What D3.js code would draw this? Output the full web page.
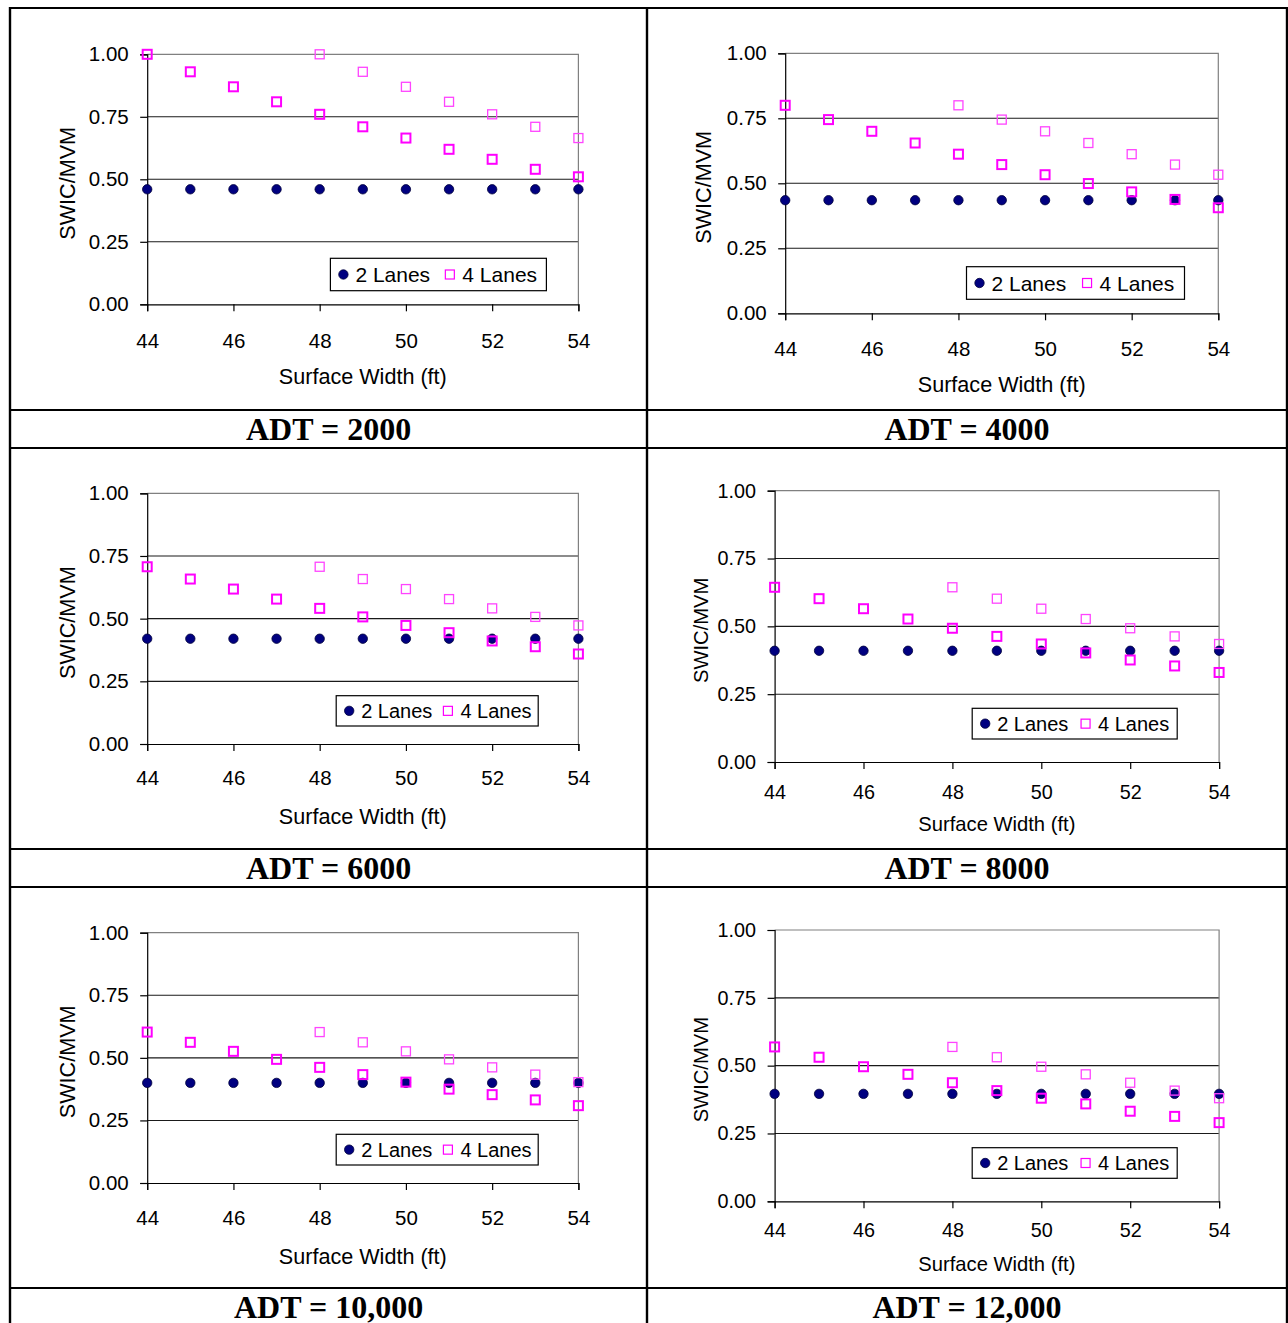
<!DOCTYPE html>
<html>
<head>
<meta charset="utf-8">
<script src="https://cdn.jsdelivr.net/npm/d3@7"></script>
<style>
  html, body { margin: 0; padding: 0; background: #ffffff; }
  svg { display: block; }
  text { font-family: "Liberation Sans", Arial, sans-serif; fill: #000; }
  .caption { font-family: "Liberation Serif", "Times New Roman", serif; font-weight: bold; }
</style>
</head>
<body>
<svg id="chart" width="1288" height="1323"></svg>
<script>
// ---------------- DATA ----------------
const surfaceWidths = [44, 45, 46, 47, 48, 49, 50, 51, 52, 53, 54];
const shiftedWidths = [48, 49, 50, 51, 52, 53, 54];
const xTickValues = [44, 46, 48, 50, 52, 54];
const yTickValues = [0, 0.25, 0.5, 0.75, 1.0];
const seriesNames = ["2 Lanes", "4 Lanes"];
const panelTitles = ["ADT = 2000", "ADT = 4000", "ADT = 6000", "ADT = 8000", "ADT = 10,000", "ADT = 12,000"];
const xAxisTitle = "Surface Width (ft)";
const yAxisTitle = "SWIC/MVM";

// ADT = 2000
const twoLanes2000   = [0.46, 0.46, 0.46, 0.46, 0.46, 0.46, 0.46, 0.46, 0.46, 0.46, 0.46];
const fourLanesA2000 = [1.00, 0.93, 0.87, 0.81, 0.76, 0.71, 0.665, 0.62, 0.58, 0.54, 0.51];
const fourLanesB2000 = [1.00, 0.93, 0.87, 0.81, 0.76, 0.71, 0.665];
// ADT = 4000
const twoLanes4000   = [0.435, 0.435, 0.435, 0.435, 0.435, 0.435, 0.435, 0.435, 0.435, 0.435, 0.435];
const fourLanesA4000 = [0.80, 0.745, 0.70, 0.655, 0.612, 0.572, 0.533, 0.499, 0.467, 0.438, 0.406];
const fourLanesB4000 = [0.80, 0.745, 0.70, 0.655, 0.612, 0.572, 0.533];
// ADT = 6000
const twoLanes6000   = [0.42, 0.42, 0.42, 0.42, 0.42, 0.42, 0.42, 0.42, 0.42, 0.42, 0.42];
const fourLanesA6000 = [0.707, 0.658, 0.618, 0.578, 0.541, 0.507, 0.473, 0.444, 0.411, 0.388, 0.359];
const fourLanesB6000 = [0.707, 0.658, 0.618, 0.578, 0.541, 0.507, 0.473];
// ADT = 8000
const twoLanes8000   = [0.41, 0.41, 0.41, 0.41, 0.41, 0.41, 0.41, 0.41, 0.41, 0.41, 0.41];
const fourLanesA8000 = [0.644, 0.602, 0.565, 0.527, 0.493, 0.463, 0.435, 0.402, 0.376, 0.354, 0.330];
const fourLanesB8000 = [0.644, 0.602, 0.565, 0.527, 0.493, 0.463, 0.435];
// ADT = 10,000
const twoLanes10000   = [0.40, 0.40, 0.40, 0.40, 0.40, 0.40, 0.40, 0.40, 0.40, 0.40, 0.40];
const fourLanesA10000 = [0.603, 0.562, 0.526, 0.494, 0.462, 0.433, 0.403, 0.375, 0.353, 0.332, 0.309];
const fourLanesB10000 = [0.603, 0.562, 0.526, 0.494, 0.462, 0.433, 0.403];
// ADT = 12,000
const twoLanes12000   = [0.396, 0.396, 0.396, 0.396, 0.396, 0.396, 0.396, 0.396, 0.396, 0.396, 0.396];
const fourLanesA12000 = [0.569, 0.531, 0.496, 0.468, 0.437, 0.408, 0.380, 0.359, 0.332, 0.313, 0.290];
const fourLanesB12000 = [0.569, 0.531, 0.496, 0.468, 0.437, 0.408, 0.380];

const panelData = [
  { two: twoLanes2000,  a: fourLanesA2000,  b: fourLanesB2000 },
  { two: twoLanes4000,  a: fourLanesA4000,  b: fourLanesB4000 },
  { two: twoLanes6000,  a: fourLanesA6000,  b: fourLanesB6000 },
  { two: twoLanes8000,  a: fourLanesA8000,  b: fourLanesB8000 },
  { two: twoLanes10000, a: fourLanesA10000, b: fourLanesB10000 },
  { two: twoLanes12000, a: fourLanesA12000, b: fourLanesB12000 }
];

// ---------------- LAYOUT ----------------
const layouts = [
  { x0: 147.2, x1: 578.4,  yTop: 54.3,  yBot: 304.3,  tickFs: 20.5, titleFs: 21.6, legFs: 21, xPad: 22,   titleBase: 383.8,  yLabX: 67,  leg: [330.4, 258.3, 216, 32.4], capX: 328.6, capY: 440.3 },
  { x0: 785.2, x1: 1218.3, yTop: 53.3,  yBot: 313.3,  tickFs: 20.5, titleFs: 21.6, legFs: 21, xPad: 21.5, titleBase: 392.2,  yLabX: 703, leg: [966.5, 266.7, 218, 32.6], capX: 967,   capY: 440.3 },
  { x0: 147.2, x1: 578.4,  yTop: 493.3, yBot: 744,    tickFs: 20.5, titleFs: 21.6, legFs: 20, xPad: 19,   titleBase: 823.8,  yLabX: 67,  leg: [336.2, 695.7, 202, 30.3], capX: 328.6, capY: 878.5 },
  { x0: 774.6, x1: 1219.1, yTop: 490.7, yBot: 762,    tickFs: 19.8, titleFs: 20.2, legFs: 20, xPad: 16,   titleBase: 831.2,  yLabX: 701, leg: [972.2, 708.3, 205, 30.7], capX: 967,   capY: 878.5 },
  { x0: 147.2, x1: 578.4,  yTop: 932.7, yBot: 1183,   tickFs: 20.5, titleFs: 21.6, legFs: 20, xPad: 20,   titleBase: 1263.8, yLabX: 67,  leg: [336.2, 1134.3, 202, 30.7], capX: 328.6, capY: 1318 },
  { x0: 774.6, x1: 1219.1, yTop: 930,   yBot: 1201.3, tickFs: 19.8, titleFs: 20.2, legFs: 20, xPad: 15,   titleBase: 1271.2, yLabX: 701, leg: [972.2, 1147.7, 205, 30.6], capX: 967,   capY: 1318 }
];

const navy = "#000080";
const magenta = "#FF00FF";
const svg = d3.select("#chart");
svg.append("rect").attr("width", 1288).attr("height", 1323).attr("fill", "#fff");

// ---------------- PANELS ----------------
panelData.forEach((pd, i) => {
  const L = layouts[i];
  const x = d3.scaleLinear().domain([44, 54]).range([L.x0, L.x1]);
  const y = d3.scaleLinear().domain([0, 1]).range([L.yBot, L.yTop]);
  const g = svg.append("g");

  // gridlines
  g.selectAll("line.grid").data(yTickValues.filter(v => v > 0 && v < 1)).enter()
    .append("line")
    .attr("x1", L.x0).attr("x2", L.x1)
    .attr("y1", d => y(d)).attr("y2", d => y(d))
    .attr("stroke", "#1a1a1a").attr("stroke-width", 1.1);

  // plot area border (top/right gray)
  g.append("path")
    .attr("d", `M${L.x0},${y(1)}H${L.x1}V${y(0)}`)
    .attr("fill", "none").attr("stroke", "#808080").attr("stroke-width", 1.2);

  // y axis
  const yAxis = d3.axisLeft(y).tickValues(yTickValues).tickFormat(d3.format(".2f"))
    .tickSize(7).tickPadding(11.5);
  const ga = g.append("g").attr("transform", `translate(${L.x0},0)`).call(yAxis);
  ga.select(".domain").attr("stroke", "#000").attr("stroke-width", 1.2);
  ga.selectAll(".tick line").attr("stroke", "#000").attr("stroke-width", 1.2);
  ga.selectAll(".tick text").attr("font-size", L.tickFs).attr("font-family", "Liberation Sans, Arial, sans-serif").attr("fill", "#000");

  // x axis
  const xAxis = d3.axisBottom(x).tickValues(xTickValues).tickFormat(d3.format("d"))
    .tickSize(7).tickPadding(L.xPad);
  const gx = g.append("g").attr("transform", `translate(0,${y(0)})`).call(xAxis);
  gx.select(".domain").attr("stroke", "#000").attr("stroke-width", 1.2);
  gx.selectAll(".tick line").attr("stroke", "#000").attr("stroke-width", 1.2);
  gx.selectAll(".tick text").attr("font-size", L.tickFs).attr("font-family", "Liberation Sans, Arial, sans-serif").attr("fill", "#000");

  // axis titles
  g.append("text").attr("x", (L.x0 + L.x1) / 2).attr("y", L.titleBase)
    .attr("text-anchor", "middle").attr("font-size", L.titleFs).text(xAxisTitle);
  g.append("text")
    .attr("transform", `translate(${L.yLabX},${(L.yTop + L.yBot) / 2 + 4}) rotate(-90)`)
    .attr("text-anchor", "middle").attr("dy", "0.36em")
    .attr("font-size", L.titleFs).text(yAxisTitle);

  // 2 lanes markers
  g.selectAll("circle.two").data(pd.two).enter().append("circle")
    .attr("cx", (d, j) => x(surfaceWidths[j])).attr("cy", d => y(d))
    .attr("r", 4.7).attr("fill", navy).attr("stroke", "#00003a").attr("stroke-width", 0.8);

  // 4 lanes markers (shifted sequence, lighter)
  const s = 9;
  g.selectAll("rect.fb").data(pd.b).enter().append("rect")
    .attr("x", (d, j) => x(shiftedWidths[j]) - s / 2).attr("y", d => y(d) - s / 2)
    .attr("width", s).attr("height", s)
    .attr("fill", "none").attr("stroke", "#FF44FF").attr("stroke-width", 1.3);
  // 4 lanes markers (main sequence)
  g.selectAll("rect.fa").data(pd.a).enter().append("rect")
    .attr("x", (d, j) => x(surfaceWidths[j]) - s / 2).attr("y", d => y(d) - s / 2)
    .attr("width", s).attr("height", s)
    .attr("fill", "none").attr("stroke", magenta).attr("stroke-width", 2);

  // legend
  const [lx, ly, lw, lh] = L.leg;
  const lg = g.append("g");
  lg.append("rect").attr("x", lx).attr("y", ly).attr("width", lw).attr("height", lh)
    .attr("fill", "#fff").attr("stroke", "#000").attr("stroke-width", 1.2);
  const cy = ly + lh / 2;
  lg.append("circle").attr("cx", lx + 13).attr("cy", cy).attr("r", 4.7)
    .attr("fill", navy).attr("stroke", "#00003a").attr("stroke-width", 0.8);
  lg.append("text").attr("x", lx + 25).attr("y", cy).attr("dy", "0.36em")
    .attr("font-size", L.legFs).text(seriesNames[0]);
  const sqx = lx + lw * 0.553;
  lg.append("rect").attr("x", sqx - 4.5).attr("y", cy - 4.5).attr("width", 9).attr("height", 9)
    .attr("fill", "none").attr("stroke", magenta).attr("stroke-width", 1.2);
  lg.append("text").attr("x", sqx + 12.5).attr("y", cy).attr("dy", "0.36em")
    .attr("font-size", L.legFs).text(seriesNames[1]);

  // caption
  svg.append("text").attr("class", "caption")
    .attr("x", L.capX).attr("y", L.capY).attr("text-anchor", "middle")
    .attr("font-size", 32).text(panelTitles[i]);
});

// ---------------- TABLE GRID ----------------
const vLines = [10, 647, 1287];
const hLines = [8, 410, 448, 849, 887, 1288];
svg.selectAll("line.v").data(vLines).enter().append("line")
  .attr("x1", d => d).attr("x2", d => d).attr("y1", 7).attr("y2", 1323)
  .attr("stroke", "#000").attr("stroke-width", 2.4);
svg.selectAll("line.h").data(hLines).enter().append("line")
  .attr("x1", 9).attr("x2", 1288).attr("y1", d => d).attr("y2", d => d)
  .attr("stroke", "#000").attr("stroke-width", 2.2);
</script>
</body>
</html>
